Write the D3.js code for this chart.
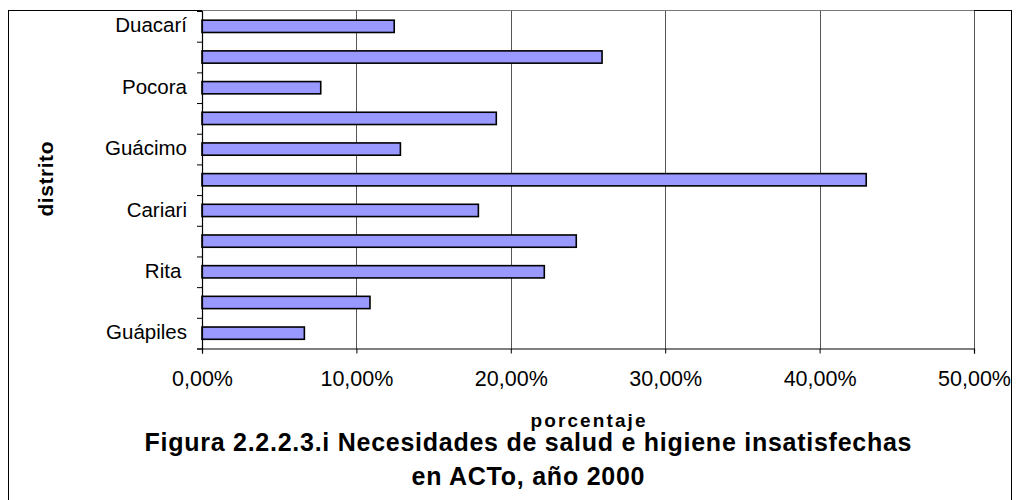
<!DOCTYPE html>
<html>
<head>
<meta charset="utf-8">
<script src="https://cdn.jsdelivr.net/npm/d3@7"></script>
<style>
  html, body { margin: 0; padding: 0; background: #fff; }
  text { font-family: "Liberation Sans", Arial, sans-serif; fill: #000; }
</style>
</head>
<body>
<svg id="chart" width="1016" height="500"></svg>
<script>
// Data (bottom to top, as drawn)
const districts = ["Guápiles", "", "Rita ", "", "Cariari", "", "Guácimo", "", "Pocora", "", "Duacarí"];
const values = [6.63, 10.88, 22.17, 24.24, 17.90, 43.02, 12.85, 19.06, 7.69, 25.91, 12.45]; // percent
const xTicks = [0, 10, 20, 30, 40, 50];
const titleLines = ["Figura 2.2.2.3.i Necesidades de salud e higiene insatisfechas", "en ACTo, año 2000"];
const xTitle = "porcentaje";
const yTitle = "distrito";

const FONT = "'Liberation Sans', Arial, sans-serif";
const svg = d3.select("#chart");
const plot = { left: 202, right: 974, top: 11, bottom: 348.5 };

// chart border
svg.append("rect")
  .attr("x", 8.5).attr("y", 10.5)
  .attr("width", 1003).attr("height", 500)
  .attr("fill", "#fff").attr("stroke", "#000").attr("stroke-width", 1);

const x = d3.scaleLinear().domain([0, 50]).range([plot.left, plot.right]);
const idx = d3.range(districts.length);
const y = d3.scaleBand().domain(idx).range([plot.bottom, plot.top])
  .paddingInner(0.6).paddingOuter(0.3);
const yEdge = d3.scaleLinear().domain([0, districts.length]).range([plot.bottom, plot.top]);

// gridlines
svg.append("g").selectAll("line")
  .data(xTicks.filter(d => d > 0))
  .join("line")
  .attr("x1", d => Math.round(x(d)) + 0.5).attr("x2", d => Math.round(x(d)) + 0.5)
  .attr("y1", plot.top).attr("y2", plot.bottom)
  .attr("stroke", "#555").attr("stroke-width", 1);

// plot top edge
svg.append("line")
  .attr("x1", plot.left).attr("x2", plot.right)
  .attr("y1", plot.top - 0.5).attr("y2", plot.top - 0.5)
  .attr("stroke", "#777");

// bars
svg.append("g").selectAll("rect")
  .data(values)
  .join("rect")
  .attr("x", x(0))
  .attr("y", (d, i) => y(i))
  .attr("width", d => x(d) - x(0))
  .attr("height", y.bandwidth())
  .attr("fill", "#9999FF")
  .attr("stroke", "#000")
  .attr("stroke-width", 1.6);

// x axis
const fmt = v => d3.format(".2f")(v).replace(".", ",") + "%";
const xAxis = svg.append("g")
  .attr("transform", `translate(0,${plot.bottom})`)
  .call(d3.axisBottom(x).tickValues(xTicks).tickSize(5).tickPadding(17).tickFormat(fmt));
xAxis.select(".domain").attr("stroke", "#000").attr("stroke-width", 1.2);
xAxis.selectAll(".tick line").attr("stroke", "#000");
xAxis.selectAll("text").attr("font-size", 21.5).attr("font-family", FONT);

// y axis ticks at category boundaries
const yAxis = svg.append("g")
  .attr("transform", `translate(${plot.left},0)`)
  .call(d3.axisLeft(yEdge).tickValues(d3.range(districts.length + 1)).tickSize(5).tickFormat(""));
yAxis.select(".domain").attr("stroke", "#000").attr("stroke-width", 1.2);
yAxis.selectAll(".tick line").attr("stroke", "#000");

// y labels
svg.append("g").selectAll("text")
  .data(districts)
  .join("text")
  .attr("x", 187)
  .attr("y", (d, i) => y(i) + y.bandwidth() / 2)
  .attr("dy", "0.3em")
  .attr("text-anchor", "end")
  .attr("font-size", 20.5)
  .attr("font-family", FONT)
  .style("white-space", "pre")
  .text(d => d);

// axis titles
svg.append("text")
  .attr("transform", "translate(53,179) rotate(-90)")
  .attr("text-anchor", "middle")
  .attr("font-family", FONT)
  .attr("font-size", 21).attr("font-weight", "bold")
  .attr("textLength", 75).attr("lengthAdjust", "spacing")
  .text(yTitle);

svg.append("text")
  .attr("x", 588).attr("y", 427)
  .attr("text-anchor", "middle")
  .attr("font-family", FONT)
  .attr("font-size", 19).attr("font-weight", "bold")
  .attr("textLength", 115).attr("lengthAdjust", "spacing")
  .text(xTitle);

// title
const titleY = [451, 485];
const titleW = [767, 233];
svg.append("g").selectAll("text")
  .data(titleLines)
  .join("text")
  .attr("x", 528)
  .attr("y", (d, i) => titleY[i])
  .attr("text-anchor", "middle")
  .attr("font-family", FONT)
  .attr("font-size", 25).attr("font-weight", "bold")
  .attr("textLength", (d, i) => titleW[i]).attr("lengthAdjust", "spacing")
  .text(d => d);
</script>
</body>
</html>
